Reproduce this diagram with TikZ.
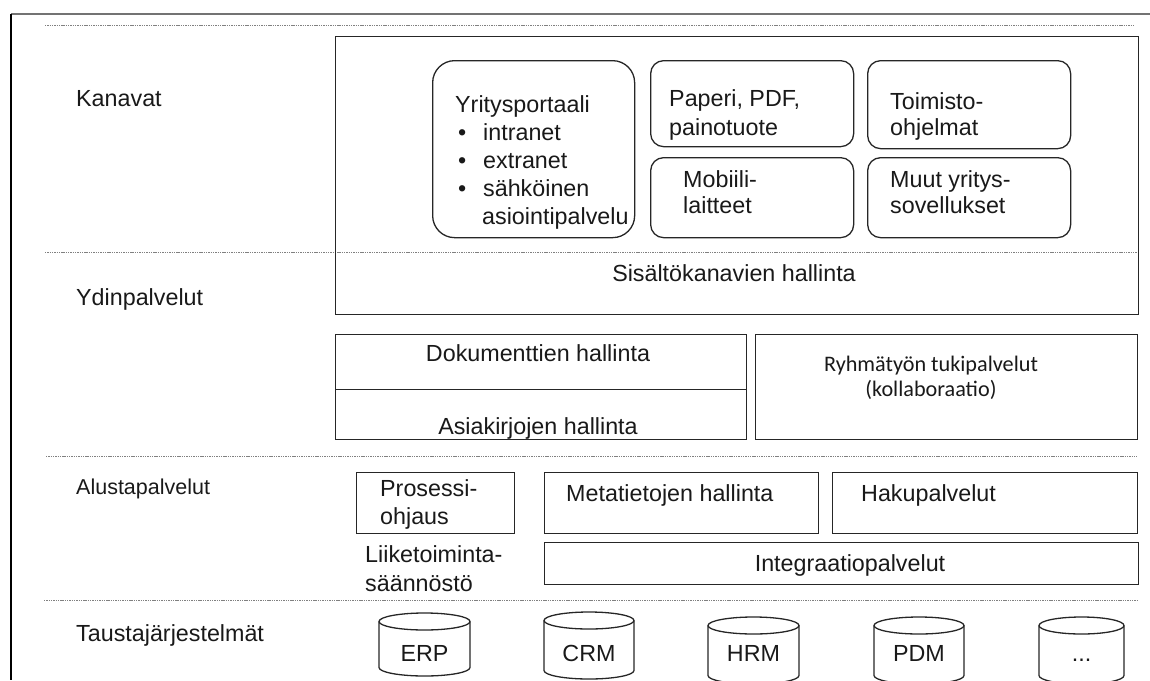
\documentclass[tikz,border=0pt]{standalone}
\usepackage{fontspec}
\setmainfont{Liberation Sans}
\newfontfamily\calibrifont{Carlito}

% database cylinder: name, left x, right x, top y, bottom y, label
\newcommand\dbcyl[6]{%
  \pgfmathsetmacro\cylcx{(#2+#3)/2}%
  \pgfmathsetmacro\cylrx{(#3-#2)/2}%
  \draw[boxline] (\cylcx,#4+8.5) ellipse[x radius=\cylrx pt, y radius=8.5pt];
  \draw[boxline] (#2,#4+8.5) -- (#2,#5-8.5)
    arc[start angle=180, end angle=360, x radius=\cylrx pt, y radius=8.5pt]
    -- (#3,#4+8.5);
  \node[txt, anchor=base] (#1) at (\cylcx,661) {#6};
}

\begin{document}
\begin{tikzpicture}[x=1pt, y=-1pt,
  boxline/.style={draw=black!85, line width=1.3pt},
  panel/.style={boxline, rectangle, inner sep=0pt, anchor=north west},
  chan/.style={panel, rounded corners=13pt},
  sepline/.style={draw=black!50, line width=0.9pt, dash pattern=on 1.4pt off 0.9pt},
  txt/.style={inner sep=0pt, text=black!90, font=\fontsize{23.3}{28}\selectfont},
  ltxt/.style={txt, anchor=north west, align=left},
  ctxt/.style={txt, anchor=north, align=center}
]
\useasboundingbox (0,0) rectangle (1150,680);

% page frame
\draw[draw=black!55, line width=1.8pt] (11,14) -- (1150,14);
\draw[draw=black, line width=1.6pt] (11,14) -- (11,680);

% layer separators
\draw[sepline] (45,25) -- (1135,25);
\draw[sepline] (45,252) -- (1137,252);
\draw[sepline] (46,456) -- (1137,456);
\draw[sepline] (44,600) -- (1137,600);

% layer titles
\node[ltxt] (kanavat) at (76,90) {Kanavat};
\node[ltxt] (ydin) at (76,288) {Ydinpalvelut};
\node[ltxt, font=\fontsize{21.5}{26}\selectfont] (alusta) at (76,479) {Alustapalvelut};
\node[ltxt] (tausta) at (76,624) {Taustajärjestelmät};

% channels and content channel management
\node[panel, minimum width=803pt, minimum height=278pt] (kanavabox) at (335,36) {};
\node[chan, rounded corners=22pt, minimum width=202pt, minimum height=177pt] (portaali) at (432,60) {};
\node[chan, minimum width=203pt, minimum height=86pt] (paperi) at (650,60) {};
\node[chan, minimum width=203pt, minimum height=80pt] (mobiili) at (650,157) {};
\node[chan, minimum width=203pt, minimum height=88pt] (toimisto) at (867,60) {};
\node[chan, minimum width=203pt, minimum height=80pt] (muut) at (867,157) {};

\node[ltxt] (portaalitxt) at (455,95) {Yritysportaali\\
  \makebox[28pt][l]{\hspace*{3pt}•}intranet\\
  \makebox[28pt][l]{\hspace*{3pt}•}extranet\\
  \makebox[28pt][l]{\hspace*{3pt}•}sähköinen\\
  \hspace*{27pt}asiointipalvelu};
\node[ltxt, font=\fontsize{23.3}{29}\selectfont] (paperitxt) at (669,89) {Paperi, PDF,\\painotuote};
\node[ltxt, font=\fontsize{23.3}{26}\selectfont] (mobiilitxt) at (683,170) {Mobiili-\\laitteet};
\node[ltxt, font=\fontsize{23.3}{26}\selectfont] (toimistotxt) at (890,92) {Toimisto-\\ohjelmat};
\node[ltxt, font=\fontsize{23.3}{26}\selectfont] (muuttxt) at (890,170) {Muut yritys-\\sovellukset};
\node[ctxt] (sisalto) at (734,264) {Sisältökanavien hallinta};

% core services
\node[panel, minimum width=411pt, minimum height=55pt] (dok) at (335,334) {};
\node[panel, minimum width=411pt, minimum height=50pt] (asia) at (335,389) {};
\node[panel, minimum width=382pt, minimum height=105pt] (ryhma) at (755,334) {};
\node[ctxt] (doktxt) at (538,344) {Dokumenttien hallinta};
\node[ctxt] (asiatxt) at (538,417) {Asiakirjojen hallinta};
\node[ctxt, font=\calibrifont\fontsize{22.2}{25}\selectfont] (ryhmatxt) at (931,356)
  {Ryhmätyön tukipalvelut\\(kollaboraatio)};

% platform services
\node[panel, minimum width=158pt, minimum height=61pt] (prosessi) at (356,472) {};
\node[panel, minimum width=274pt, minimum height=61pt] (meta) at (544,472) {};
\node[panel, minimum width=305pt, minimum height=61pt] (haku) at (832,472) {};
\node[panel, minimum width=594pt, minimum height=42pt] (integ) at (544,542) {};
\node[ltxt] (prosessitxt) at (380,479) {Prosessi-\\ohjaus};
\node[ltxt, font=\fontsize{23.3}{29}\selectfont] (liiketxt) at (365,545) {Liiketoiminta-\\säännöstö};
\node[ltxt] (metatxt) at (566,484) {Metatietojen hallinta};
\node[ltxt] (hakutxt) at (861,484) {Hakupalvelut};
\node[ctxt] (integtxt) at (850,554) {Integraatiopalvelut};

% back-end systems
\dbcyl{erp}{379}{470}{613}{676}{ERP}
\dbcyl{crm}{544}{634}{612}{679}{CRM}
\dbcyl{hrm}{708}{799}{617}{684}{HRM}
\dbcyl{pdm}{874}{964}{617}{684}{PDM}
\dbcyl{other}{1039}{1124}{617}{684}{...}
\end{tikzpicture}
\end{document}
